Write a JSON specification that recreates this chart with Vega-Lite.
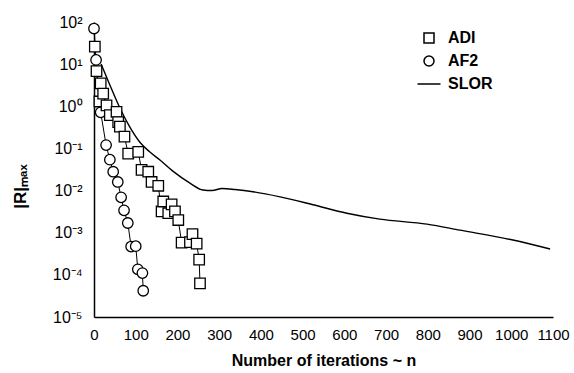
{
  "$schema": "https://vega.github.io/schema/vega-lite/v6.json",
  "width": 459,
  "height": 295,
  "autosize": "none",
  "padding": {"left": 94, "top": 22, "right": 21, "bottom": 56},
  "background": "white",
  "config": {
    "view": {"stroke": null},
    "font": "Liberation Sans",
    "axis": {
      "grid": false,
      "ticks": false,
      "domainColor": "black",
      "domainWidth": 1.5,
      "labelColor": "black",
      "titleColor": "black",
      "labelFont": "Liberation Sans",
      "titleFont": "Liberation Sans",
      "labelFontSize": 15,
      "labelFontWeight": "normal",
      "titleFontWeight": "bold",
      "labelOverlap": false,
      "labelFlush": false
    },
    "legend": {
      "labelFont": "Liberation Sans",
      "labelFontSize": 16,
      "labelFontWeight": "bold",
      "labelColor": "black",
      "symbolSize": 100,
      "rowPadding": 7,
      "labelOffset": 11,
      "padding": 0
    }
  },
  "datasets": {
    "pts": [
      {"series": "AF2", "n": 0, "r": 70},
      {"series": "AF2", "n": 5, "r": 12.6},
      {"series": "AF2", "n": 16, "r": 0.72},
      {"series": "AF2", "n": 29, "r": 0.12},
      {"series": "AF2", "n": 38, "r": 0.054},
      {"series": "AF2", "n": 46, "r": 0.028},
      {"series": "AF2", "n": 57, "r": 0.016},
      {"series": "AF2", "n": 65, "r": 0.0069},
      {"series": "AF2", "n": 72, "r": 0.0034},
      {"series": "AF2", "n": 81, "r": 0.0017},
      {"series": "AF2", "n": 89, "r": 0.00047},
      {"series": "AF2", "n": 100, "r": 0.00048},
      {"series": "AF2", "n": 105, "r": 0.000135},
      {"series": "AF2", "n": 116, "r": 0.00011},
      {"series": "AF2", "n": 118, "r": 0.000042},
      {"series": "ADI", "n": 2, "r": 26},
      {"series": "ADI", "n": 6, "r": 6.8},
      {"series": "ADI", "n": 13, "r": 1.3},
      {"series": "ADI", "n": 16, "r": 3.5},
      {"series": "ADI", "n": 22, "r": 2.0},
      {"series": "ADI", "n": 30, "r": 1.05},
      {"series": "ADI", "n": 38, "r": 0.62},
      {"series": "ADI", "n": 54, "r": 0.74},
      {"series": "ADI", "n": 58, "r": 0.42},
      {"series": "ADI", "n": 62, "r": 0.33},
      {"series": "ADI", "n": 73, "r": 0.19},
      {"series": "ADI", "n": 82, "r": 0.075},
      {"series": "ADI", "n": 106, "r": 0.083},
      {"series": "ADI", "n": 114, "r": 0.031},
      {"series": "ADI", "n": 130, "r": 0.028},
      {"series": "ADI", "n": 138, "r": 0.016},
      {"series": "ADI", "n": 154, "r": 0.013},
      {"series": "ADI", "n": 162, "r": 0.0032},
      {"series": "ADI", "n": 166, "r": 0.0055},
      {"series": "ADI", "n": 178, "r": 0.0029},
      {"series": "ADI", "n": 186, "r": 0.0047},
      {"series": "ADI", "n": 194, "r": 0.0032},
      {"series": "ADI", "n": 202, "r": 0.002},
      {"series": "ADI", "n": 210, "r": 0.00058},
      {"series": "ADI", "n": 230, "r": 0.0006},
      {"series": "ADI", "n": 236, "r": 0.00093},
      {"series": "ADI", "n": 246, "r": 0.00055},
      {"series": "ADI", "n": 252, "r": 0.00023},
      {"series": "ADI", "n": 254, "r": 0.000063}
    ],
    "slor": [
      {"series": "SLOR", "n": 17, "r": 10.1},
      {"series": "SLOR", "n": 38, "r": 3.2},
      {"series": "SLOR", "n": 62, "r": 0.91},
      {"series": "SLOR", "n": 86, "r": 0.32},
      {"series": "SLOR", "n": 110, "r": 0.14},
      {"series": "SLOR", "n": 134, "r": 0.082},
      {"series": "SLOR", "n": 158, "r": 0.053},
      {"series": "SLOR", "n": 189, "r": 0.029},
      {"series": "SLOR", "n": 230, "r": 0.015},
      {"series": "SLOR", "n": 261, "r": 0.0103},
      {"series": "SLOR", "n": 283, "r": 0.01},
      {"series": "SLOR", "n": 307, "r": 0.0112},
      {"series": "SLOR", "n": 338, "r": 0.0106},
      {"series": "SLOR", "n": 381, "r": 0.0094},
      {"series": "SLOR", "n": 446, "r": 0.0071},
      {"series": "SLOR", "n": 525, "r": 0.0046},
      {"series": "SLOR", "n": 606, "r": 0.0029},
      {"series": "SLOR", "n": 685, "r": 0.0021},
      {"series": "SLOR", "n": 798, "r": 0.0016},
      {"series": "SLOR", "n": 877, "r": 0.00115},
      {"series": "SLOR", "n": 1004, "r": 0.00067},
      {"series": "SLOR", "n": 1093, "r": 0.00041}
    ],
    "xticks": [
      {"n": 100}, {"n": 200}, {"n": 300}, {"n": 400}, {"n": 500},
      {"n": 600}, {"n": 700}, {"n": 800}, {"n": 900}, {"n": 1000}, {"n": 1100}
    ],
    "yticks": [
      {"r": 0.0001}, {"r": 0.001}, {"r": 0.01},
      {"r": 0.1}, {"r": 1}, {"r": 10}, {"r": 100}
    ]
  },
  "encoding": {
    "x": {
      "field": "n",
      "type": "quantitative",
      "scale": {"domain": [0, 1100], "nice": false, "zero": false},
      "axis": {
        "values": [0, 100, 200, 300, 400, 500, 600, 700, 800, 900, 1000, 1100],
        "format": "d",
        "labelPadding": 10,
        "title": "Number of iterations ~ n",
        "titleFontSize": 16,
        "titleY": 43,
        "titleBaseline": "middle"
      }
    },
    "y": {
      "field": "r",
      "type": "quantitative",
      "scale": {"type": "log", "domain": [0.00001, 100], "nice": false},
      "axis": {
        "values": [0.00001, 0.0001, 0.001, 0.01, 0.1, 1, 10, 100],
        "labelPadding": 12,
        "labelFontSize": 16,
        "labelExpr": "datum.value > 50 ? '10²' : datum.value > 5 ? '10¹' : datum.value > 0.5 ? '10⁰' : datum.value > 0.05 ? '10⁻¹' : datum.value > 0.005 ? '10⁻²' : datum.value > 0.0005 ? '10⁻³' : datum.value > 0.00005 ? '10⁻⁴' : '10⁻⁵'",
        "title": "|R|ₘₐₓ",
        "titleFontSize": 17,
        "titleAngle": -90,
        "titleX": -74,
        "titleY": 164,
        "titleAlign": "center",
        "titleBaseline": "middle"
      }
    }
  },
  "layer": [
    {
      "data": {"name": "xticks"},
      "mark": {"type": "rule", "color": "black", "strokeWidth": 1.8, "opacity": 1},
      "encoding": {"y": {"datum": 0.00001}, "y2": {"datum": 0.00002}}
    },
    {
      "data": {"name": "yticks"},
      "mark": {"type": "rule", "color": "black", "strokeWidth": 1.8, "opacity": 1},
      "encoding": {"x": {"datum": 0}, "x2": {"datum": 30}}
    },
    {
      "data": {"name": "slor"},
      "mark": {"type": "line", "color": "black", "strokeWidth": 1.4, "interpolate": "monotone"},
      "encoding": {}
    },
    {
      "data": {"name": "pts"},
      "mark": {"type": "line", "color": "black", "strokeWidth": 1},
      "encoding": {"detail": {"field": "series"}}
    },
    {
      "data": {"name": "pts"},
      "mark": {"type": "point", "filled": true, "color": "white", "stroke": "black", "strokeWidth": 1.3, "opacity": 1, "size": 110},
      "encoding": {
        "shape": {
          "field": "series",
          "type": "nominal",
          "scale": {"domain": ["ADI", "AF2", "SLOR"], "range": ["square", "circle", "M-2.3,0H2.3"]},
          "legend": {
            "title": null,
            "orient": "none",
            "legendX": 327,
            "legendY": 8,
            "encode": {
              "symbols": {
                "update": {
                  "stroke": {"value": "black"},
                  "fill": {"value": "white"},
                  "strokeWidth": {"value": 1.3},
                  "opacity": {"value": 1}
                }
              }
            }
          }
        }
      }
    }
  ]
}
